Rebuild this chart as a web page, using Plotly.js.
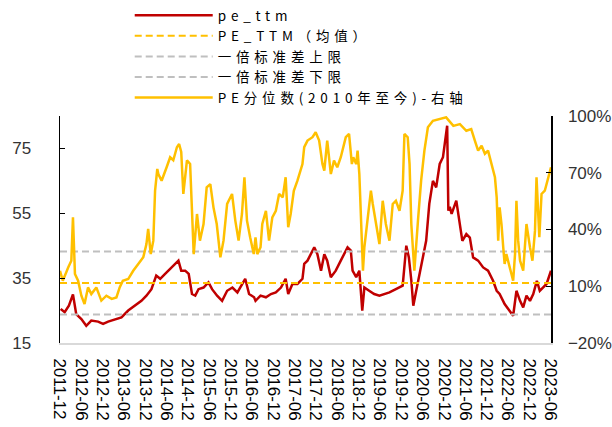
<!DOCTYPE html>
<html>
<head>
<meta charset="utf-8">
<script src="https://cdn.plot.ly/plotly-3.0.1.min.js"></script>
<style>
html,body{margin:0;padding:0;background:#fff;}
#chart{width:612px;height:427px;}
.legendtext{letter-spacing:4.8px;}
</style>
</head>
<body>
<div id="chart"></div>
<script>
// ---- data ----
const peDates = ["2011-12-07","2012-01-10","2012-02-15","2012-03-21","2012-04-18","2012-06-01","2012-07-13","2012-08-25","2012-10-22","2012-12-04",
"2013-01-16","2013-03-13","2013-05-10","2013-07-07","2013-09-01","2013-10-28","2013-12-10","2014-01-22","2014-03-04","2014-04-07",
"2014-05-19","2014-07-01","2014-08-13","2014-09-10","2014-10-04","2014-11-07","2014-12-07","2015-01-04","2015-02-01","2015-03-01",
"2015-04-13","2015-05-25","2015-06-25","2015-08-07","2015-09-19","2015-11-01","2015-12-16","2016-01-28","2016-03-10","2016-04-04",
"2016-05-07","2016-06-19","2016-07-01","2016-08-13","2016-09-28","2016-11-10","2016-12-22","2017-02-04","2017-03-16","2017-04-07",
"2017-05-13","2017-06-25","2017-08-07","2017-08-22","2017-09-19","2017-10-16","2017-11-16","2017-12-13","2018-01-13","2018-02-10",
"2018-03-07","2018-04-07","2018-05-19","2018-07-01","2018-07-28","2018-08-28","2018-09-25","2018-10-10","2018-11-10","2018-12-07",
"2019-01-01","2019-01-19","2019-03-01","2019-04-13","2019-05-28","2019-07-10","2019-08-22","2019-10-16","2019-12-13","2020-01-13",
"2020-02-04","2020-02-25","2020-03-13","2020-04-07","2020-05-19","2020-07-01","2020-07-28","2020-08-28","2020-09-25","2020-10-25",
"2020-11-22","2020-12-19","2020-12-28","2021-01-07","2021-01-19","2021-02-04","2021-03-16","2021-05-07","2021-06-10","2021-07-10",
"2021-08-07","2021-09-19","2021-11-01","2021-12-13","2022-01-25","2022-02-25","2022-03-22","2022-05-04","2022-06-16","2022-07-16",
"2022-08-13","2022-09-13","2022-10-10","2022-11-07","2022-12-07","2023-01-04","2023-02-04","2023-03-01","2023-03-28","2023-04-28",
"2023-06-05"];
const peTtm = [25.5,24.5,26.5,30.0,23.9,22.4,20.3,21.9,21.6,20.9,
21.6,22.2,22.9,25.0,26.5,28.0,29.6,31.6,35.8,34.8,
36.3,37.8,39.4,40.4,37.3,37.3,36.3,30.1,29.6,31.6,
32.1,33.7,31.6,29.6,28.0,31.1,32.1,30.6,33.2,34.8,
30.1,29.1,28.0,29.6,29.1,30.1,30.6,32.1,34.8,30.1,
33.2,33.2,34.8,39.4,40.4,42.4,44.5,42.4,37.3,42.4,
40.4,35.3,37.3,40.4,42.4,44.5,43.5,37.3,35.3,37.3,
25.0,32.1,31.1,30.1,29.6,30.1,30.6,31.6,32.7,45.0,
41.4,34.3,26.5,31.1,38.3,46.5,57.9,65.0,63.0,70.2,
72.3,80.5,82.0,55.8,57.0,54.8,58.9,46.5,48.6,47.5,
41.4,40.4,38.3,37.3,34.2,31.1,30.1,27.0,25.0,23.4,
31.1,28.0,26.0,29.6,28.0,30.1,34.2,31.1,32.1,33.2,
37.3];

const pctDates = ["2011-12-01","2011-12-25","2012-02-10","2012-03-07","2012-03-21","2012-04-07","2012-05-04","2012-06-01","2012-06-28","2012-07-28",
"2012-08-25","2012-10-07","2012-11-19","2013-01-01","2013-02-16","2013-03-28","2013-04-25","2013-05-22","2013-07-07","2013-08-19",
"2013-10-01","2013-11-13","2013-12-10","2013-12-25","2014-01-16","2014-02-07","2014-02-22","2014-03-13","2014-03-22","2014-04-19",
"2014-06-01","2014-07-01","2014-07-28","2014-08-28","2014-09-16","2014-10-04","2014-10-22","2014-11-22","2014-12-19","2015-01-04",
"2015-01-19","2015-02-16","2015-03-13","2015-04-13","2015-05-10","2015-06-10","2015-07-07","2015-08-04","2015-09-04","2015-10-01",
"2015-11-01","2015-12-13","2016-01-10","2016-02-07","2016-03-07","2016-03-28","2016-04-19","2016-05-16","2016-06-16","2016-07-01",
"2016-07-16","2016-08-13","2016-08-28","2016-09-28","2016-10-25","2016-11-22","2016-12-22","2017-01-19","2017-02-19","2017-03-16",
"2017-04-07","2017-04-28","2017-05-25","2017-06-25","2017-08-07","2017-08-22","2017-09-19","2017-11-01","2017-11-28","2017-12-28",
"2018-01-25","2018-02-10","2018-03-07","2018-04-07","2018-05-04","2018-06-01","2018-07-01","2018-08-13","2018-09-10","2018-10-04",
"2018-10-16","2018-11-10","2018-11-22","2018-12-07","2018-12-22","2019-01-07","2019-01-19","2019-02-19","2019-03-16","2019-04-01",
"2019-04-28","2019-05-28","2019-06-25","2019-07-22","2019-08-22","2019-09-19","2019-10-16","2019-11-16","2019-12-13","2019-12-28",
"2020-01-25","2020-02-10","2020-02-25","2020-03-22","2020-04-22","2020-05-19","2020-06-16","2020-07-16","2020-08-28","2020-10-25",
"2020-12-19","2021-02-19","2021-04-16","2021-06-10","2021-07-22","2021-08-22","2021-09-19","2021-10-19","2021-11-16","2021-12-13",
"2022-01-13","2022-02-10","2022-02-25","2022-03-10","2022-03-22","2022-04-07","2022-04-22","2022-05-04","2022-05-19","2022-06-16",
"2022-07-16","2022-08-01","2022-08-13","2022-08-28","2022-09-13","2022-10-10","2022-11-07","2022-12-07","2022-12-28","2023-01-19",
"2023-02-01","2023-02-25","2023-03-16","2023-04-13","2023-05-10","2023-06-05"];
const pePct = [18.2,12.9,20.0,23.5,46.4,16.5,12.9,5.0,0.6,9.4,
5.9,9.4,2.4,5.0,3.3,4.1,9.4,12.9,13.8,18.2,
21.8,25.3,32.3,40.3,27.0,34.1,60.5,72.0,69.3,65.8,
72.9,78.2,76.6,83.5,85.2,81.0,58.8,76.6,74.6,48.2,
27.0,48.2,34.1,42.9,62.3,64.0,51.7,42.9,25.3,34.1,
53.5,58.8,44.7,34.1,48.2,67.6,44.7,35.9,27.0,35.9,
27.0,30.6,42.9,49.9,34.1,46.4,49.9,58.8,57.0,67.6,
41.2,48.2,60.5,65.8,74.6,83.5,87.0,88.8,91.4,87.0,
74.6,71.1,87.0,69.3,76.4,72.9,78.2,88.8,90.5,74.6,
78.2,74.6,81.7,69.3,39.4,18.2,30.6,46.4,60.5,53.5,
42.9,32.3,55.2,42.9,34.1,53.5,55.2,49.9,60.5,90.5,
88.8,74.6,42.9,18.2,44.7,65.8,81.7,94.0,97.5,98.4,
99.3,94.8,95.7,92.2,93.1,87.0,81.7,84.3,80.0,81.7,
74.6,67.6,57.0,34.1,51.7,42.9,30.6,21.8,27.0,20.0,
12.9,27.0,55.2,34.1,23.5,18.2,42.9,30.6,23.5,39.4,
67.6,35.9,58.8,60.5,67.6,72.9];

const peMean = 33.5;
const peStd = 9.7;
const seriesNames = ["pe_ttm","PE_TTM（均值）","一倍标准差上限","一倍标准差下限","PE分位数(2010年至今)-右轴"];
const xTickStart = "2011-12-01";
const xEnd = "2023-06-05";

// ---- build traces ----
const spanX = [xTickStart, xEnd];
const traces = [
  {x: peDates, y: peTtm, name: seriesNames[0], type: "scatter", mode: "lines",
   line: {color: "#C00000", width: 2.5}},
  {x: spanX, y: spanX.map(() => peMean), name: seriesNames[1], type: "scatter", mode: "lines",
   line: {color: "#FFC000", width: 2, dash: "7px,4px"}},
  {x: spanX, y: spanX.map(() => peMean + peStd), name: seriesNames[2], type: "scatter", mode: "lines",
   line: {color: "#BFBFBF", width: 2, dash: "7px,4px"}},
  {x: spanX, y: spanX.map(() => peMean - peStd), name: seriesNames[3], type: "scatter", mode: "lines",
   line: {color: "#BFBFBF", width: 2, dash: "7px,4px"}},
  {x: pctDates, y: pePct, name: seriesNames[4], type: "scatter", mode: "lines", yaxis: "y2",
   line: {color: "#FFC000", width: 2.5}}
];

const tickFont = {family: "Liberation Sans, Arial, sans-serif", size: 17, color: "#333"};
const layout = {
  width: 612, height: 427,
  margin: {l: 60, r: 61, t: 116, b: 84, pad: 0, autoexpand: false},
  paper_bgcolor: "#fff", plot_bgcolor: "#fff",
  showlegend: true,
  legend: {x: 0.142, y: 1.0, xref: "paper", yref: "container", xanchor: "left", yanchor: "top",
           bgcolor: "rgba(0,0,0,0)",
           font: {family: "Noto Sans CJK SC, sans-serif", size: 13.5, color: "#000"},
           itemwidth: 78, tracegroupgap: 0, traceorder: "normal"},
  xaxis: {type: "date", range: [xTickStart, xEnd], tickformat: "%Y-%m", dtick: "M6", tick0: xTickStart,
          tickangle: 90, showgrid: false, zeroline: false, showline: true, linecolor: "#D9D9D9", linewidth: 2,
          ticks: "", ticklabelstandoff: 10,
          tickfont: {family: "Liberation Sans, Arial, sans-serif", size: 17, color: "#000"}},
  yaxis: {range: [15, 85], tick0: 15, dtick: 20, showgrid: false, zeroline: false, showline: true,
          linecolor: "#000", linewidth: 1.5, ticks: "inside", ticklen: 5, tickcolor: "#000",
          ticklabelstandoff: 24, tickfont: tickFont},
  yaxis2: {range: [-20, 100], tick0: -20, dtick: 30, ticksuffix: "%", overlaying: "y", side: "right",
           showgrid: false, zeroline: false, showline: true, linecolor: "#000", linewidth: 1.5,
           ticks: "inside", ticklen: 5, tickcolor: "#000", ticklabelstandoff: 12, tickfont: tickFont}
};

Plotly.newPlot("chart", traces, layout, {staticPlot: true, displayModeBar: false});
</script>
</body>
</html>
